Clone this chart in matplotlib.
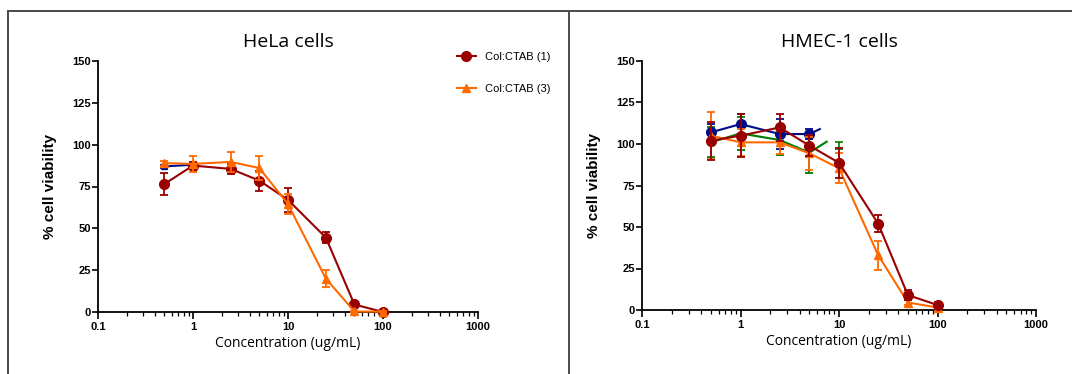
import matplotlib
matplotlib.use("Agg")
import matplotlib.pyplot as plt
from matplotlib.lines import Line2D
from matplotlib.ticker import FixedLocator, FixedFormatter, LogLocator, NullFormatter

# ---------------- data ----------------
conc = [0.5, 1, 2.5, 5, 10, 25, 50, 100]
conc_short = [0.5, 1, 2.5, 5]

# HeLa
hela_c1 = [76.5, 87.5, 85.5, 78.5, 67, 44.5, 4.5, 0]
hela_c1_err = [6.5, 2, 3, 6, 7, 3.5, 1, 0.5]
hela_c3 = [89, 88.5, 89.7, 86, 64.5, 20, 0.3, 0.2]
hela_c3_err = [1.5, 5, 6, 7, 6, 5, 0.5, 0.3]
hela_c2_x = [0.5, 1]
hela_c2 = [87, 88]
hela_c2_err = [1, 1]

# HMEC-1
hmec_c1 = [102, 105, 110, 99, 88.7, 52, 9, 3]
hmec_c1_err = [11.5, 13, 8, 6.5, 9, 5, 3, 2]
hmec_c3 = [105, 101, 101, 94.4, 85.4, 33, 4.5, 1.5]
hmec_c3_err = [14, 8, 7, 10, 9, 8.7, 1.5, 1]
hmec_blue = [107, 112, 106, 106]
hmec_blue_err = [5, 6, 9, 3]
hmec_blue_tail_x = [5, 6.4]
hmec_blue_tail = [106, 109]
hmec_green = [101, 106.4, 102.4, 94.8]
hmec_green_err = [9, 10, 9, 12]
hmec_green_tail_x = [5, 7.5]
hmec_green_tail = [94.8, 101.4]
hmec_green_extra_x = [10]
hmec_green_extra = [99]
hmec_green_extra_err = [2]

xticks = [0.1, 1, 10, 100, 1000]
xticklabels = ["0.1", "1", "10", "100", "1000"]
yticks = [0, 25, 50, 75, 100, 125, 150]
legend_labels = ["Col:CTAB (1)", "Col:CTAB (3)"]

RED = "#990000"
ORANGE = "#ff6a00"
BLUE = "#000c8a"
GREEN = "#007a00"

fig = plt.figure(figsize=(10.72, 3.74), dpi=100)
fig.patch.set_facecolor("white")

# frame lines
W, H = 1072, 374
bc = "#4a4a4a"
fig.add_artist(Line2D([8 / W, 1], [1 - 11 / H, 1 - 11 / H], color=bc, lw=1.4, transform=fig.transFigure))
fig.add_artist(Line2D([8 / W, 8 / W], [0, 1 - 11 / H], color=bc, lw=1.4, transform=fig.transFigure))
fig.add_artist(Line2D([569 / W, 569 / W], [0, 1 - 11 / H], color=bc, lw=1.4, transform=fig.transFigure))


def style_axes(ax, title):
    ax.set_xscale("log")
    ax.set_xlim(0.1, 1000)
    ax.set_ylim(0, 150)
    for s in ["top", "right"]:
        ax.spines[s].set_visible(False)
    for s in ["left", "bottom"]:
        ax.spines[s].set_linewidth(1.3)
    ax.xaxis.set_major_locator(FixedLocator(xticks))
    ax.xaxis.set_major_formatter(FixedFormatter(xticklabels))
    ax.xaxis.set_minor_locator(LogLocator(base=10, subs=range(2, 10), numticks=20))
    ax.xaxis.set_minor_formatter(NullFormatter())
    ax.set_yticks(yticks)
    ax.set_yticklabels([str(v) for v in yticks])
    ax.tick_params(axis="x", which="major", length=5, width=1.2, pad=2, direction="out")
    ax.tick_params(axis="x", which="minor", length=3, width=0.9, direction="out")
    ax.tick_params(axis="y", which="major", length=4, width=1.2, pad=1)
    for lab in ax.get_xticklabels() + ax.get_yticklabels():
        lab.set_fontfamily("Liberation Sans")
        lab.set_fontweight("bold")
        lab.set_fontsize(8)
    ax.set_title(title, fontsize=14, family="Open Sans", pad=10)
    ax.set_xlabel("Concentration (ug/mL)", fontsize=10, family="Open Sans", labelpad=3)
    ax.set_ylabel("% cell viability", fontsize=11, family="Liberation Sans", weight="bold", labelpad=11)


def series(ax, x, y, e, color, marker, ms, z):
    ax.errorbar(x, y, yerr=e, color=color, marker=marker, ms=ms, lw=1.5,
                capsize=3, capthick=1.3, elinewidth=1.3, zorder=z, clip_on=False)


# ---- Left: HeLa
ax1 = fig.add_axes([98 / W, 1 - 312 / H, 380 / W, 251 / H])
style_axes(ax1, "HeLa cells")
series(ax1, hela_c2_x, hela_c2, hela_c2_err, BLUE, "^", 4, 2)
series(ax1, conc, hela_c1, hela_c1_err, RED, "o", 7, 3)
series(ax1, conc, hela_c3, hela_c3_err, ORANGE, "^", 5.5, 4)

handles = [Line2D([], [], color=RED, marker="o", ms=7, lw=1.5),
           Line2D([], [], color=ORANGE, marker="^", ms=5.5, lw=1.5)]
ax1.legend(handles, legend_labels, loc="upper left", bbox_to_anchor=(457 / W, 1 - 52 / H),
           bbox_transform=fig.transFigure, frameon=False,
           prop=dict(family="Liberation Sans", size=8), handlelength=1.7,
           labelspacing=2.0, handletextpad=0.8, borderaxespad=0, borderpad=0)

# ---- Right: HMEC-1
ax2 = fig.add_axes([642 / W, 1 - 310 / H, 394 / W, 249 / H])
style_axes(ax2, "HMEC-1 cells")
ax2.plot(hmec_blue_tail_x, hmec_blue_tail, color=BLUE, lw=1.5, zorder=2)
ax2.plot(hmec_green_tail_x, hmec_green_tail, color=GREEN, lw=1.5, zorder=2)
ax2.errorbar(hmec_green_extra_x, hmec_green_extra, yerr=hmec_green_extra_err, color=GREEN, ls="none",
             capsize=3, elinewidth=1.2, capthick=1.2, zorder=1)
series(ax2, conc_short, hmec_green, hmec_green_err, GREEN, "^", 4, 2)
series(ax2, conc_short, hmec_blue, hmec_blue_err, BLUE, "o", 7, 2.5)
series(ax2, conc, hmec_c3, hmec_c3_err, ORANGE, "^", 5.5, 3)
series(ax2, conc, hmec_c1, hmec_c1_err, RED, "o", 7, 4)

fig.savefig("out.png", dpi=100, facecolor="white")
